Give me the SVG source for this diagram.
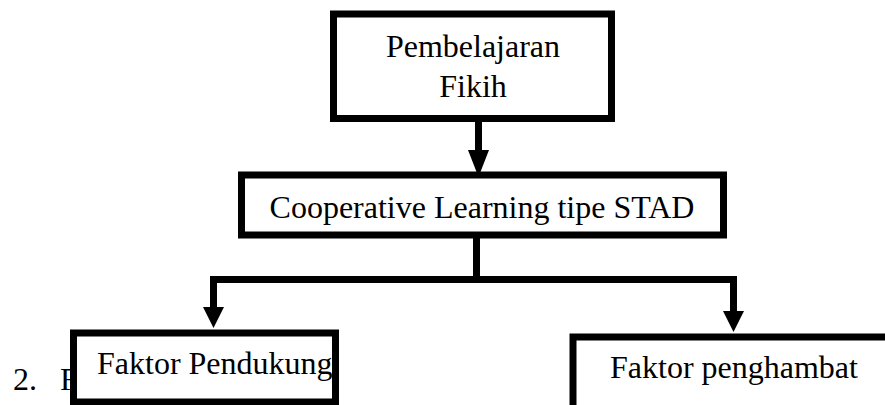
<svg xmlns="http://www.w3.org/2000/svg" width="885" height="405" viewBox="0 0 885 405">
<style>
.box{fill:#fff;stroke:#000;stroke-width:7}
.ln{fill:none;stroke:#000;stroke-width:7}
.hd{fill:#000}
text{font-family:"Liberation Serif","Times New Roman",serif;font-size:32px;fill:#000}
</style>
<rect width="885" height="405" fill="#fff"/>
<g id="list-label">
<text x="13" y="390">2.</text>
<text x="60" y="390">F</text>
</g>
<g id="connectors">
<path class="ln" d="M478.5 122 V152"/>
<polygon class="hd" points="468,150 489,150 478.5,177"/>
<path class="ln" d="M476.5 238 V279.5 M213.5 308 V279.5 H733.5 V312"/>
<polygon class="hd" points="203,307 224,307 213.5,328"/>
<polygon class="hd" points="723,311 744,311 733.5,332"/>
</g>
<g id="node-fikih">
<rect class="box" x="333.5" y="14" width="278" height="104.5"/>
<text x="473" y="57" text-anchor="middle">Pembelajaran</text>
<text x="473" y="97" text-anchor="middle">Fikih</text>
</g>
<g id="node-stad">
<rect class="box" x="241.5" y="175" width="482" height="60"/>
<text x="482" y="218" text-anchor="middle">Cooperative Learning tipe STAD</text>
</g>
<g id="node-pendukung">
<rect class="box" x="73.5" y="333" width="262" height="69"/>
<text x="97" y="374">Faktor Pendukung</text>
</g>
<g id="node-penghambat">
<path class="box" d="M573 412 V337 H892 V412 Z"/>
<text x="610" y="378">Faktor penghambat</text>
</g>
</svg>
